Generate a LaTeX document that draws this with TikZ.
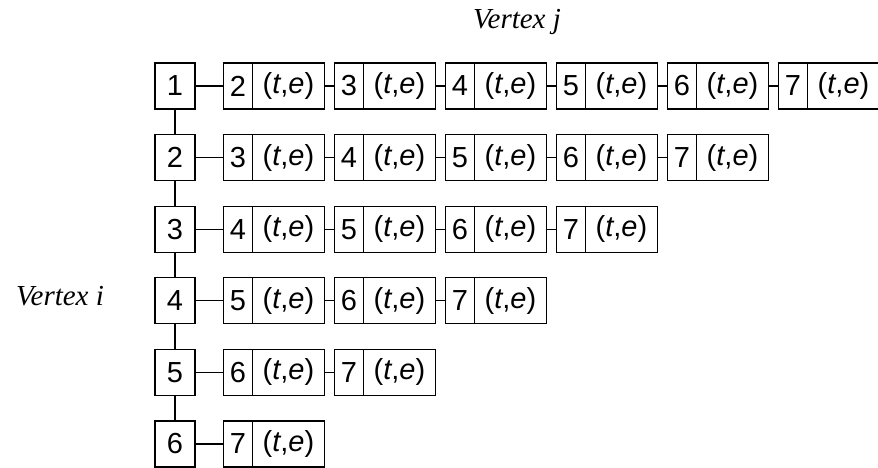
\documentclass[tikz,border=0pt]{standalone}
\usepackage{fontspec}
\setmainfont{Liberation Serif}
\setsansfont{Liberation Sans}
\usetikzlibrary{positioning}
\tikzset{
  every picture/.style={line width=1.3pt},
  cell/.style={draw, rectangle, inner sep=0pt, outer sep=0pt, minimum height=46pt, font=\sffamily\fontsize{29}{30}\selectfont},
  vbox/.style={cell, minimum width=40pt},
  numcell/.style={cell, minimum width=29pt},
  tecell/.style={cell, minimum width=72pt},
  axislabel/.style={font=\itshape\fontsize{29}{30}\selectfont},
  link/.style={line width=1.3pt},
}
\begin{document}
\begin{tikzpicture}[x=1pt, y=-1pt]
  \useasboundingbox (0,0) rectangle (878,468);
  \node[axislabel] (lj) at (517,22) {Vertex j};
  \node[axislabel] (li) at (60,296) {Vertex i};
  % one row per vertex i, list of pairs (j,(t,e))
  \foreach \i in {1,...,6} {
    \node[vbox] (v\i) at (175,{86+71.6*(\i-1)}) {\i};
    \pgfmathtruncatemacro\first{\i+1}
    \foreach \j in {\first,...,7} {
      \pgfmathtruncatemacro\xc{224+111*(\j-\i-1)+14}
      \pgfmathtruncatemacro\prev{\j-1}
      \node[numcell] (n\i-\j) at (\xc,{86+71.6*(\i-1)}) {\j};
      \node[tecell, right=0pt of n\i-\j] (e\i-\j) {({\itshape t},{\itshape e})};
      \ifnum\j=\first
        \draw[link] (v\i) -- (n\i-\j);
      \else
        \draw[link] (e\i-\prev) -- (n\i-\j);
      \fi
    }
  }
  % vertical chain of vertices
  \foreach \i [count=\k from 2] in {1,...,5}
    \draw[link] (v\i) -- (v\k);
\end{tikzpicture}
\end{document}
